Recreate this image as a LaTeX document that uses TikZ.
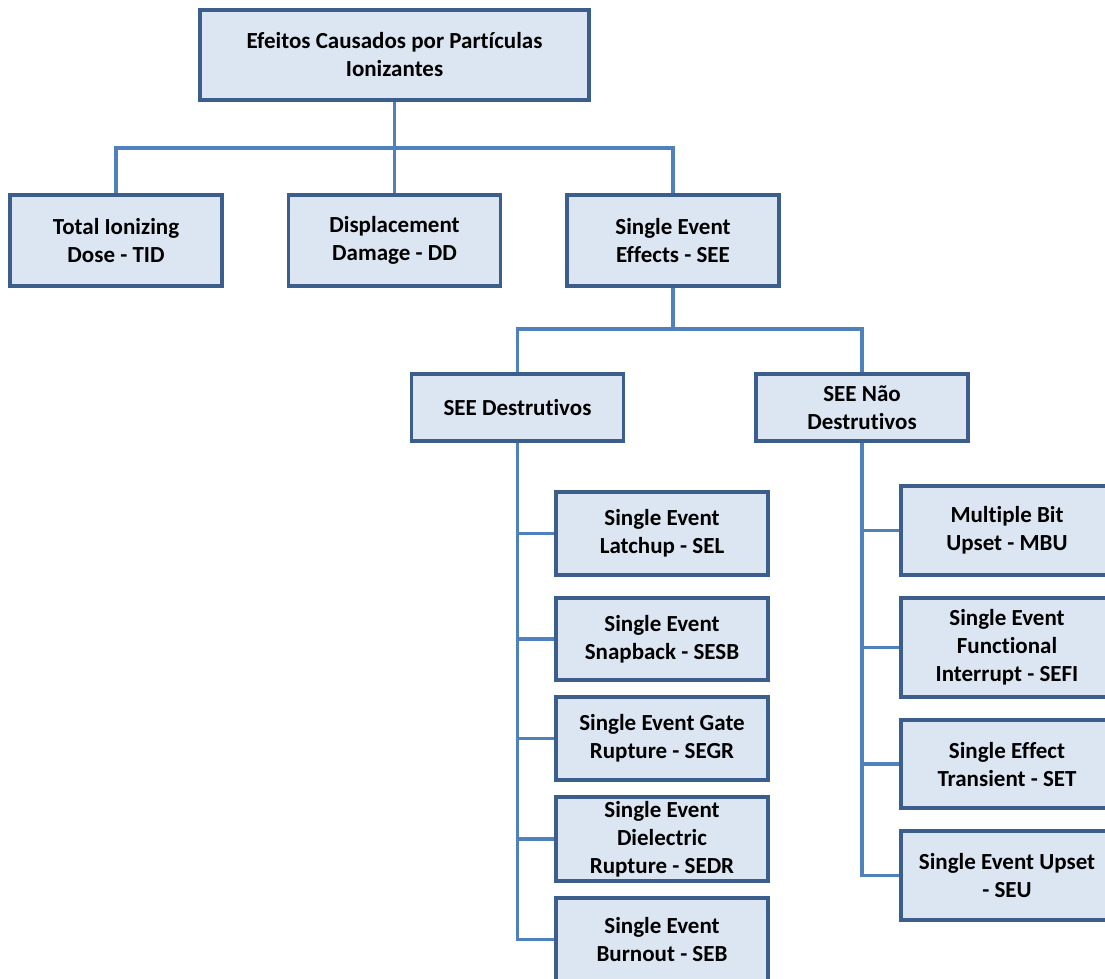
\documentclass[tikz,border=0pt]{standalone}
\usepackage{fontspec}
\setmainfont{Carlito}[Ligatures=NoCommon]
\definecolor{boxfill}{HTML}{DCE6F2}
\definecolor{boxdraw}{HTML}{3B5E8C}
\definecolor{conncol}{HTML}{4F81BD}
\begin{document}
\begin{tikzpicture}[x=1pt,y=-1pt,
  box/.style={draw=boxdraw,fill=boxfill,line width=3.2pt,align=center,
    font=\fontsize{23}{28}\selectfont\bfseries,inner sep=0pt,
    minimum width=212pt,minimum height=#1},
  box/.default=91pt,
  conn/.style={draw=conncol,line width=3.4pt}]
\useasboundingbox (0,0) rectangle (1105,978);
\clip (0,0) rectangle (1105,978);
% top level
\node[box=90pt,minimum width=389pt] (top) at (394.5,55) {Efeitos Causados por Partículas\\Ionizantes};
\node[box] (tid) at (116,240.5) {Total Ionizing\\Dose - TID};
\node[box] (dd) at (394.5,240.5) {Displacement\\Damage - DD};
\node[box] (see) at (673,240.5) {Single Event\\Effects - SEE};
% second level
\node[box=67pt] (dest) at (517.5,407.5) {SEE Destrutivos};
\node[box=67pt] (ndest) at (862,407.5) {SEE Não\\Destrutivos};
% destructive
\node[box=83pt] (sel) at (662,533.5) {Single Event\\Latchup - SEL};
\node[box=82pt] (sesb) at (662,639) {Single Event\\Snapback - SESB};
\node[box=83pt] (segr) at (662,738.5) {Single Event Gate\\Rupture - SEGR};
\node[box=84pt] (sedr) at (662,839) {Single Event\\Dielectric\\Rupture - SEDR};
\node[box=83pt] (seb) at (662,939.5) {Single Event\\Burnout - SEB};
% non-destructive
\node[box=89pt] (mbu) at (1007,530.5) {Multiple Bit\\Upset - MBU};
\node[box=99pt] (sefi) at (1007,647.5) {Single Event\\Functional\\Interrupt - SEFI};
\node[box=88pt] (set) at (1007,764) {Single Effect\\Transient - SET};
\node[box=89pt] (seu) at (1007,875.5) {Single Event Upset\\- SEU};
% connectors
\coordinate (bus) at (394.5,148);
\coordinate (bus2) at (673,329);
\draw[conn] (top.south) -- (bus) -- (dd.north);
\draw[conn] (tid.north) |- (bus) -| (see.north);
\draw[conn] (see.south) -- (bus2);
\draw[conn] (dest.north) |- (bus2) -| (ndest.north);
\foreach \n in {sel,sesb,segr,sedr,seb} \draw[conn] (dest.south) |- (\n.west);
\foreach \n in {mbu,sefi,set,seu} \draw[conn] (ndest.south) |- (\n.west);
\end{tikzpicture}
\end{document}
